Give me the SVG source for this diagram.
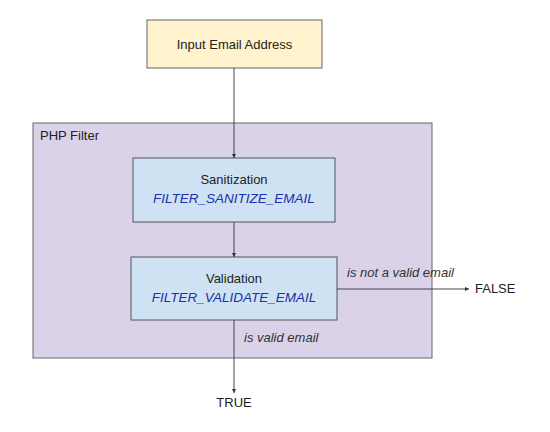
<svg xmlns="http://www.w3.org/2000/svg" width="550" height="432" viewBox="0 0 550 432">
<style>
text{font-family:"Liberation Sans",Arial,sans-serif;font-size:13px;fill:#222}
.c{text-anchor:middle}
.b{fill:#2030a8;font-style:italic;font-size:13.5px}
.i{font-style:italic;fill:#333}
.ln{stroke:#444;stroke-width:1;fill:none}
</style>
<defs>
<marker id="ah" viewBox="0 0 6 6" refX="6" refY="3" markerWidth="4" markerHeight="4" orient="auto">
<path d="M0,0 L6,3 L0,6 z" fill="#333"/>
</marker>
</defs>
<rect width="550" height="432" fill="#fff"/>
<g id="container">
<rect x="33" y="123" width="399" height="235" fill="#d9d2e9" stroke="#666" stroke-width="1"/>
<text x="40" y="140">PHP Filter</text>
</g>
<g id="input">
<rect x="147" y="20" width="175" height="48" fill="#fff2cc" stroke="#666" stroke-width="1"/>
<text class="c" x="234.5" y="49">Input Email Address</text>
</g>
<g id="sanitization">
<rect x="133" y="158" width="202" height="64" fill="#cfe2f3" stroke="#555" stroke-width="1"/>
<text class="c" x="234" y="184">Sanitization</text>
<text class="c b" x="234" y="203">FILTER_SANITIZE_EMAIL</text>
</g>
<g id="validation">
<rect x="131" y="257" width="206" height="63" fill="#cfe2f3" stroke="#555" stroke-width="1"/>
<text class="c" x="234" y="283">Validation</text>
<text class="c b" x="234" y="302">FILTER_VALIDATE_EMAIL</text>
</g>
<g id="false">
<text x="475" y="293">FALSE</text>
</g>
<g id="true">
<text class="c" x="234" y="407">TRUE</text>
</g>
<g id="connectors">
<line class="ln" x1="234" y1="68" x2="234" y2="158" marker-end="url(#ah)"/>
<line class="ln" x1="234" y1="222" x2="234" y2="257" marker-end="url(#ah)"/>
<line class="ln" x1="337" y1="289" x2="469" y2="289" marker-end="url(#ah)"/>
<text class="i" x="347" y="277">is not a valid email</text>
<line class="ln" x1="234" y1="320" x2="234" y2="393" marker-end="url(#ah)"/>
<text class="i" x="244" y="342">is valid email</text>
</g>
</svg>
